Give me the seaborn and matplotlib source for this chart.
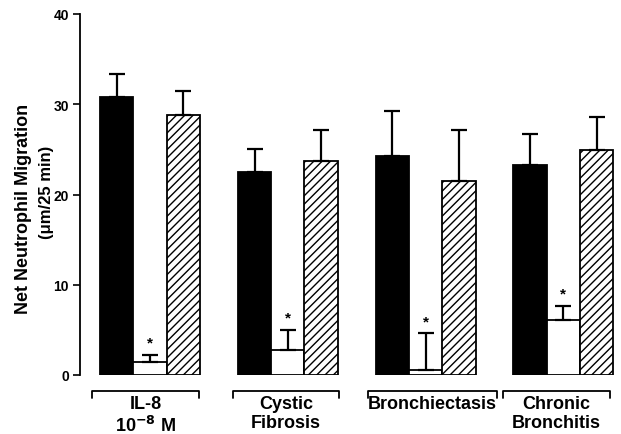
import matplotlib
matplotlib.use("Agg")
import matplotlib.pyplot as plt
import seaborn as sns
import pandas as pd
import numpy as np

# ---- data ----
groups = ["IL-8", "Cystic Fibrosis", "Bronchiectasis", "Chronic Bronchitis"]
group_labels = ["IL-8\n10$^{\\mathbf{-8}}$ M", "Cystic\nFibrosis", "Bronchiectasis", "Chronic\nBronchitis"]
conditions = ["solid", "open", "hatched"]
solid_vals = [30.8, 22.5, 24.3, 23.3]
solid_err = [2.5, 2.5, 5.0, 3.4]
open_vals = [1.4, 2.8, 0.5, 6.1]
open_err = [0.8, 2.2, 4.1, 1.6]
hatched_vals = [28.8, 23.7, 21.5, 24.9]
hatched_err = [2.7, 3.4, 5.7, 3.7]
yticks = [0, 10, 20, 30, 40]

df = pd.DataFrame({
    "group": groups * 3,
    "cond": [c for c in conditions for _ in groups],
    "value": solid_vals + open_vals + hatched_vals,
    "err": solid_err + open_err + hatched_err,
})

sns.set_style("white")
plt.rcParams["font.family"] = ["Liberation Sans", "DejaVu Sans"]
plt.rcParams["font.weight"] = "bold"
plt.rcParams["text.color"] = "black"
plt.rcParams["axes.labelcolor"] = "black"
plt.rcParams["ytick.color"] = "black"
plt.rcParams["hatch.linewidth"] = 1.0
plt.rcParams["hatch.color"] = "black"

fig = plt.figure(figsize=(6.21, 4.35), dpi=100)
ax = fig.add_axes([80 / 621, (435 - 376) / 435, 535 / 621, 361 / 435])

sns.barplot(data=df, x="group", y="value", hue="cond", order=groups,
            hue_order=conditions,
            palette={"solid": "black", "open": "white", "hatched": "white"},
            errorbar=None, width=0.725, gap=0, edgecolor="black",
            linewidth=1.3, legend=False, ax=ax)

bars = list(ax.patches)
for i, p in enumerate(bars):
    ci = i // len(groups)
    if conditions[ci] == "hatched":
        p.set_hatch("////")
    cx = p.get_x() + p.get_width() / 2
    top = p.get_height()
    e = df["err"].iloc[i]
    ax.errorbar(cx, top, yerr=[[0], [e]], color="black", lw=1.6,
                capsize=5.8, capthick=1.6, zorder=3)
    if conditions[ci] == "open":
        ax.text(cx, top + e + 0.6, "*", ha="center", va="bottom",
                fontsize=11, fontweight="bold")

ax.set_ylim(0, 40)
ax.set_xlim(-0.508, 3.374)
ax.set_yticks(yticks)
ax.set_yticklabels([str(t) for t in yticks], fontsize=10, fontweight="bold")
ax.tick_params(axis="y", direction="out", length=5, width=1.2, pad=3,
               left=True, colors="black")
ax.set_xticks([])
ax.set_xlabel("")
ax.set_ylabel("")
for s in ["top", "right", "bottom"]:
    ax.spines[s].set_visible(False)
ax.spines["left"].set_linewidth(1.3)
ax.spines["left"].set_color("black")

# y-axis title (two lines, as in the original)
ax.text(-0.106, 0.4626, "Net Neutrophil Migration", rotation=90,
        transform=ax.transAxes, ha="center", va="center", fontsize=13,
        fontweight="bold")
ax.text(-0.063, 0.5097, "(μm/25 min)", rotation=90,
        transform=ax.transAxes, ha="center", va="center", fontsize=12,
        fontweight="bold")

# bracket group labels under the axis
bracket_left = [-0.421, -0.398, -0.420, -0.438]
bracket_right = [0.356, 0.371, 0.518, 0.338]
for gi, lab in enumerate(group_labels):
    x0 = gi + bracket_left[gi]
    x1 = gi + bracket_right[gi]
    ax.plot([x0, x0, x1, x1], [-2.5, -1.75, -1.75, -2.5], color="black",
            lw=1.3, clip_on=False)
    ax.text((x0 + x1) / 2, -2.2, lab, ha="center", va="top", fontsize=13,
            fontweight="bold", linespacing=1.2)

fig.savefig("out.png", dpi=100)
